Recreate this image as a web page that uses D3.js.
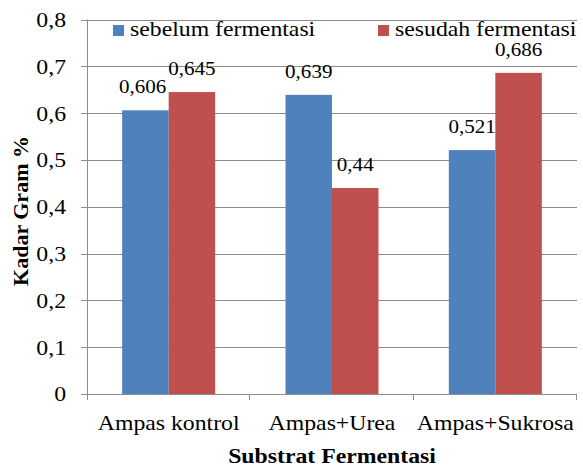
<!DOCTYPE html>
<html>
<head>
<meta charset="utf-8">
<script src="https://cdn.jsdelivr.net/npm/d3@7/dist/d3.min.js"></script>
<style>
  html, body { margin: 0; padding: 0; background: #fff; }
</style>
</head>
<body>
<svg id="chart" width="583" height="468"></svg>
<script>
// Substrate groups and the two measurement series
const categories = ["Ampas kontrol", "Ampas+Urea", "Ampas+Sukrosa"];
const seriesNames = ["sebelum fermentasi", "sesudah fermentasi"];
const sebelum = [0.606, 0.639, 0.521];
const sesudah = [0.645, 0.44, 0.686];
const valueLabels = [["0,606", "0,639", "0,521"], ["0,645", "0,44", "0,686"]];
const yTicks = [0, 0.1, 0.2, 0.3, 0.4, 0.5, 0.6, 0.7, 0.8];
const yTickLabels = ["0", "0,1", "0,2", "0,3", "0,4", "0,5", "0,6", "0,7", "0,8"];
const colors = ["#4F81BD", "#C0504D"];

const FONT = "Liberation Serif";
const svg = d3.select("#chart");
const plotLeft = 87, plotRight = 577, plotTop = 19.5, plotBottom = 394;
const stretch = 1.08; // glyphs are drawn slightly wide

const x = d3.scaleBand().domain(categories).range([plotLeft, plotRight]);
const bw = x.bandwidth();
const x1 = d3.scaleBand().domain(seriesNames).range([bw / 2 - 46.5, bw / 2 + 46.5]);
const y = d3.scaleLinear().domain([0, 0.8]).range([plotBottom, plotTop]);

// place a text at (px, py) with the horizontal stretch applied around its anchor
function place(sel, px, py) {
  return sel
    .style("font-family", FONT)
    .attr("fill", "#000")
    .attr("transform", (d, i) =>
      `translate(${typeof px === "function" ? px(d, i) : px},${typeof py === "function" ? py(d, i) : py}) scale(${stretch},1)`);
}

// horizontal gridlines with short tick marks on the left
svg.append("g").selectAll("line").data(yTicks).join("line")
  .attr("x1", plotLeft - 6).attr("x2", plotRight)
  .attr("y1", d => Math.round(y(d)) + 0.5).attr("y2", d => Math.round(y(d)) + 0.5)
  .attr("stroke", "#8c8c8c").attr("stroke-width", 1);

// y tick labels
place(svg.append("g").selectAll("text").data(yTicks).join("text"), 66, d => y(d))
  .attr("dy", "0.34em")
  .attr("text-anchor", "end")
  .attr("font-size", 22)
  .text((d, i) => yTickLabels[i]);

// bars
const data = seriesNames.map((s, si) => categories.map((c, ci) => ({
  cat: c, series: s, si, ci, value: si === 0 ? sebelum[ci] : sesudah[ci]
})));
const bars = svg.append("g");
data.forEach((row, si) => {
  bars.selectAll(null).data(row).join("rect")
    .attr("x", d => x(d.cat) + x1(d.series))
    .attr("y", d => y(d.value))
    .attr("width", x1.bandwidth())
    .attr("height", d => y(0) - y(d.value))
    .attr("fill", colors[si]);
});

// value labels above bars
const labelCenter = d => x(d.cat) + x1(d.series) + x1.bandwidth() / 2;
const labelGroups = data.map((row, si) =>
  place(svg.append("g").selectAll("text").data(row).join("text"),
      labelCenter, d => y(d.value) - 17)
    .attr("text-anchor", "middle")
    .attr("font-size", 19.5)
    .text((d, i) => valueLabels[si][i]));

// nudge a left label sideways when it would touch its right-hand neighbour
categories.forEach((c, ci) => {
  const a = labelGroups[0].nodes()[ci], b = labelGroups[1].nodes()[ci];
  const ba = a.getBoundingClientRect(), bb = b.getBoundingClientRect();
  const vertical = ba.bottom > bb.top && bb.bottom > ba.top;
  const overlap = ba.right - (bb.left - 2);
  if (vertical && overlap > 0) {
    const d = data[0][ci];
    d3.select(a).attr("transform",
      `translate(${labelCenter(d) - overlap},${y(d.value) - 17}) scale(${stretch},1)`);
  }
});

// x axis line, y axis line and category ticks
svg.append("line")
  .attr("x1", plotLeft).attr("x2", plotRight)
  .attr("y1", Math.round(plotBottom) + 0.5).attr("y2", Math.round(plotBottom) + 0.5)
  .attr("stroke", "#8c8c8c");
svg.append("line")
  .attr("x1", plotLeft + 0.5).attr("x2", plotLeft + 0.5)
  .attr("y1", plotTop).attr("y2", plotBottom + 6)
  .attr("stroke", "#8c8c8c");
svg.append("g").selectAll("line").data(categories).join("line")
  .attr("x1", d => Math.round(x(d) + bw) - 0.5).attr("x2", d => Math.round(x(d) + bw) - 0.5)
  .attr("y1", plotBottom).attr("y2", plotBottom + 6)
  .attr("stroke", "#8c8c8c");

// category labels
place(svg.append("g").selectAll("text").data(categories).join("text"), d => x(d) + bw / 2, 430)
  .attr("text-anchor", "middle")
  .attr("font-size", 22)
  .text(d => d);

// axis titles
place(svg.append("text"), 332, 463)
  .attr("text-anchor", "middle")
  .attr("font-size", 22).attr("font-weight", "bold")
  .text("Substrat Fermentasi");
svg.append("text")
  .style("font-family", FONT)
  .attr("transform", `translate(28,211) rotate(-90)`)
  .attr("text-anchor", "middle")
  .attr("font-size", 22).attr("font-weight", "bold")
  .text("Kadar Gram %");

// legend
const legendX = [113, 378];
const legend = svg.append("g");
seriesNames.forEach((s, i) => {
  legend.append("rect")
    .attr("x", legendX[i]).attr("y", 25)
    .attr("width", 11).attr("height", 11)
    .attr("fill", colors[i]);
  place(legend.append("text"), legendX[i] + 17, 36)
    .attr("font-size", 22)
    .text(s);
});
</script>
</body>
</html>
